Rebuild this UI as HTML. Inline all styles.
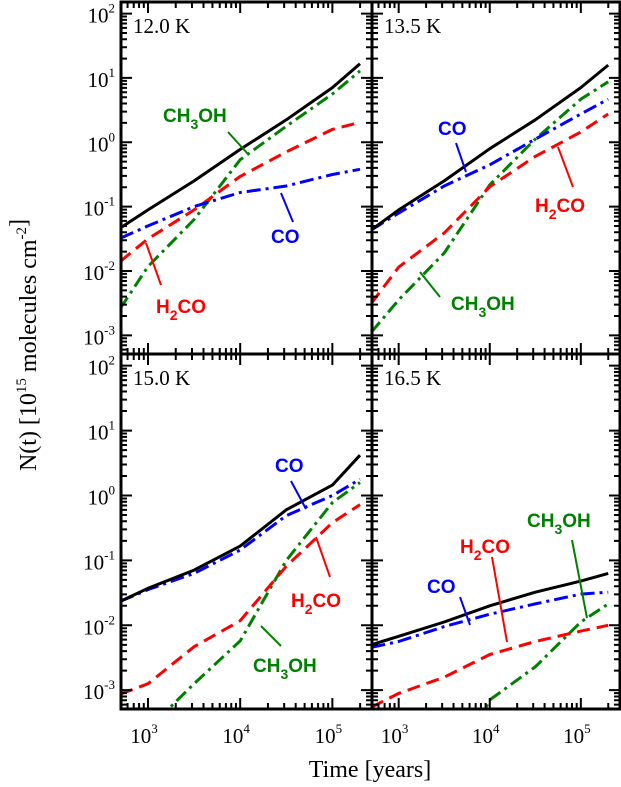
<!DOCTYPE html>
<html><head><meta charset="utf-8"><style>
html,body{margin:0;padding:0;background:#fff;}
svg{display:block;}
.tl{font-family:"Liberation Serif",serif;font-size:21px;fill:#000;}
.sup{font-size:13px;}
.lab{font-family:"Liberation Sans",sans-serif;font-weight:bold;font-size:19px;}
</style></head><body>
<svg id="chart" width="621" height="787" viewBox="0 0 621 787" xmlns="http://www.w3.org/2000/svg">
<g id="marks"></g>
<g id="axes"></g>
<g id="labels"></g>
<text class="tl" x="370" y="777" text-anchor="middle" style="font-size:24px">Time [years]</text>
<text class="tl" transform="translate(36,345) rotate(-90)" text-anchor="middle" style="font-size:24px">N(t) [10<tspan dy="-10" style="font-size:15px">15</tspan><tspan dy="10"> molecules cm</tspan><tspan dy="-10" style="font-size:15px">-2</tspan>]</text>
</svg>
<script>
// shared x sample points (log10 years)
const xs = [2.7, 3, 3.5, 4, 4.5, 5, 5.3];
const panelTitles = ["12.0 K", "13.5 K", "15.0 K", "16.5 K"];
const xTickLabels = ["3", "4", "5"];
const yTickLabels = ["2", "1", "0", "-1", "-2", "-3"];
// series values, log10 N
const total1 = [-1.33, -1.05, -0.6, -0.11, 0.35, 0.85, 1.22];
const co1 = [-1.49, -1.3, -1.0, -0.78, -0.68, -0.5, -0.42];
const h2co1 = [-1.85, -1.5, -1.05, -0.53, -0.15, 0.2, 0.31];
const ch3oh1 = [-2.58, -1.93, -1.2, -0.27, 0.25, 0.75, 1.11];
const total2 = [-1.36, -1.05, -0.6, -0.1, 0.35, 0.85, 1.2];
const co2 = [-1.36, -1.1, -0.68, -0.35, 0.05, 0.44, 0.67];
const h2co2 = [-2.5, -1.94, -1.41, -0.69, -0.22, 0.16, 0.44];
const ch3oh2 = [-2.95, -2.45, -1.72, -0.66, 0.05, 0.67, 0.94];
const total3 = [-1.63, -1.43, -1.15, -0.78, -0.22, 0.16, 0.62];
const co3 = [-1.63, -1.45, -1.2, -0.84, -0.31, 0.0, 0.25];
const h2co3 = [-3.06, -2.9, -2.33, -1.93, -1.09, -0.42, -0.14];
const ch3oh3 = [-4.0, -3.6, -2.9, -2.24, -1.0, -0.11, 0.2];
const total4 = [-2.3, -2.17, -1.95, -1.7, -1.49, -1.32, -1.2];
const co4 = [-2.34, -2.25, -2.02, -1.83, -1.67, -1.52, -1.49];
const h2co4 = [-3.26, -3.05, -2.8, -2.45, -2.25, -2.09, -2.0];
const ch3oh4 = [-5, -5, -4.5, -3.15, -2.64, -1.95, -1.67];

const NS = "http://www.w3.org/2000/svg";
const panels = [
  {x0:121, x1:372, y0:2, y1:354},
  {x0:372, x1:620, y0:2, y1:354},
  {x0:121, x1:372, y0:354, y1:709},
  {x0:372, x1:620, y0:354, y1:709}
];
const XMIN = 2.707, XMAX = 5.43, YMIN = -3.29, YMAX = 2.18;
function sx(p, v){ return p.x0 + (v - XMIN) / (XMAX - XMIN) * (p.x1 - p.x0); }
function sy(p, v){ return p.y1 - (v - YMIN) / (YMAX - YMIN) * (p.y1 - p.y0); }
function mk(tag, attrs, parent){ const e = document.createElementNS(NS, tag); for (const k in attrs) e.setAttribute(k, attrs[k]); parent.appendChild(e); return e; }

const marks = document.getElementById('marks');
const axes = document.getElementById('axes');
const series = [
  [total1, co1, h2co1, ch3oh1],
  [total2, co2, h2co2, ch3oh2],
  [total3, co3, h2co3, ch3oh3],
  [total4, co4, h2co4, ch3oh4]
];
const styles = [
  {c:"#000", d:"none", n:"total"},
  {c:"#0000ff", d:"14 5 3 5", n:"co"},
  {c:"#ff0000", d:"13 7", n:"h2co"},
  {c:"#008000", d:"13 5 3 5", n:"ch3oh"}
];
panels.forEach((p, i) => {
  const cp = mk('clipPath', {id:'clip'+i}, marks);
  mk('rect', {x:p.x0, y:p.y0, width:p.x1-p.x0, height:p.y1-p.y0}, cp);
  const g = mk('g', {'clip-path':'url(#clip'+i+')'}, marks);
  
  
  [3,2,1,0].forEach(k => {
    const vals = series[i][k];
    const pts = xs.map((x, j) => sx(p, x).toFixed(1) + ',' + sy(p, vals[j]).toFixed(1)).join(' ');
    const pl = mk('polyline', {points:pts, fill:'none', stroke:styles[k].c, 'stroke-width':3, 'stroke-dasharray':styles[k].d, 'stroke-linejoin':'round'}, g);
    
    
  });
  const fr = mk('rect', {x:p.x0, y:p.y0, width:p.x1-p.x0, height:p.y1-p.y0, fill:'none', stroke:'#000', 'stroke-width':3}, axes);
  
  
  let d = '';
  for (let dec = 2; dec <= 5; dec++) for (let m = 1; m <= 9; m++) {
    const v = dec + Math.log10(m); if (v < XMIN || v > XMAX) continue;
    const x = sx(p, v), L = m === 1 ? 11 : 6;
    d += `M${x},${p.y1}v${-L}M${x},${p.y0}v${L}`;
  }
  for (let dec = -4; dec <= 2; dec++) for (let m = 1; m <= 9; m++) {
    const v = dec + Math.log10(m); if (v < YMIN || v > YMAX) continue;
    const y = sy(p, v), L = m === 1 ? 11 : 6;
    d += `M${p.x0},${y}h${L}M${p.x1},${y}h${-L}`;
  }
  const tk = mk('path', {d:d, stroke:'#000', 'stroke-width':2, fill:'none'}, axes);
  
  
  const t = mk('text', {x:p.x0+12, y:p.y0+31, class:'tl'}, axes);
  t.textContent = panelTitles[i];
  
  
  if (i % 2 === 0) {
    yTickLabels.forEach(s => {
      const y = sy(p, parseFloat(s));
      const tx = mk('text', {x:p.x0-6, y:y+9, class:'tl', 'text-anchor':'end'}, axes);
      tx.innerHTML = '10<tspan class="sup" dy="-10">' + s + '</tspan>';
      
      
    });
  }
  if (i >= 2) {
    xTickLabels.forEach(s => {
      const x = sx(p, parseFloat(s));
      const tx = mk('text', {x:x-4, y:p.y1+34, class:'tl', 'text-anchor':'middle'}, axes);
      tx.innerHTML = '10<tspan class="sup" dy="-10">' + s + '</tspan>';
      
      
    });
  }
});
// species labels with leader lines: [text, color, x, y, lx1, ly1, lx2, ly2]
const G = "#008000", R = "#ff0000", B = "#0000ff";
const labels = [
  ["CH3OH", G, 163, 122, 228, 132, 248, 154],
  ["CO", B, 271, 243, 281, 193, 293, 222],
  ["H2CO", R, 156, 313, 146, 243, 161, 285],
  ["CO", B, 438, 135, 456, 143, 466, 172],
  ["H2CO", R, 535, 212, 558, 147, 573, 187],
  ["CH3OH", G, 451, 310, 420, 272, 440, 297],
  ["CO", B, 275, 472, 291, 481, 306, 509],
  ["H2CO", R, 291, 607, 316, 537, 330, 577],
  ["CH3OH", G, 253, 672, 261, 626, 281, 646],
  ["CH3OH", G, 527, 527, 572, 540, 587, 618],
  ["H2CO", R, 460, 553, 492, 557, 507, 642],
  ["CO", B, 427, 593, 460, 597, 470, 625]
];
const lg = document.getElementById('labels');
labels.forEach(l => {
  const ln = mk('line', {x1:l[4], y1:l[5], x2:l[6], y2:l[7], stroke:l[1], 'stroke-width':2}, lg);
  
  
  const t = mk('text', {x:l[2], y:l[3], class:'lab', fill:l[1]}, lg);
  if (l[0] === 'CH3OH') t.innerHTML = 'CH<tspan dy="7" style="font-size:14px">3</tspan><tspan dy="-7">OH</tspan>';
  else if (l[0] === 'H2CO') t.innerHTML = 'H<tspan dy="7" style="font-size:14px">2</tspan><tspan dy="-7">CO</tspan>';
  else t.textContent = l[0];
  
  
});
</script>
</body></html>
